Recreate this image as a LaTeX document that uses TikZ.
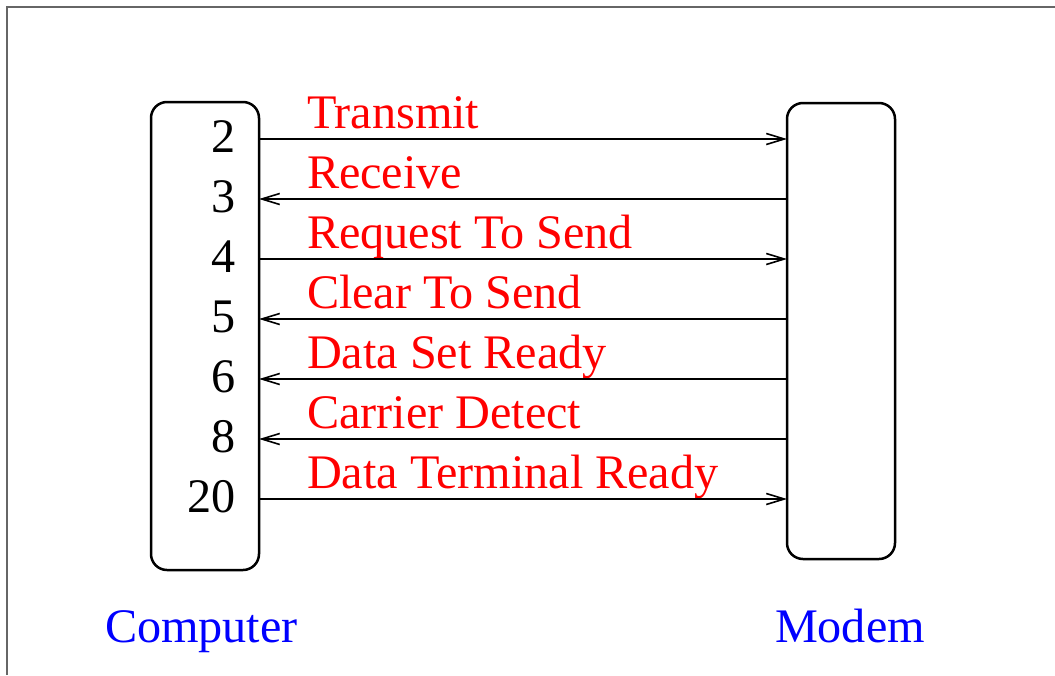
\documentclass[tikz,border=0pt]{standalone}
\usepackage{fontspec}
\setmainfont{Liberation Serif}
\usetikzlibrary{arrows.meta}
\begin{document}
\begin{tikzpicture}[x=0.5pt, y=-0.5pt,
  every node/.style={inner sep=0pt, outer sep=0pt, font=\fontsize{24.1pt}{28pt}\selectfont},
  box/.style={draw, line width=1.25pt, rounded corners=8pt, minimum width=54pt},
  sig/.style={line width=1pt, -{Straight Barb[length=9pt, width=5.5pt, line width=0.8pt]}},
  pin/.style={anchor=base east},
  lbl/.style={anchor=base west, text=red},
  side/.style={anchor=base west, text=blue}]
  \useasboundingbox (0,0) rectangle (1055,675);
  % outer frame
  \draw[line width=1pt, gray!80!black] (7,675) -- (7,7) -- (1055,7);

  % the two connector bodies
  \node (comp)  [box, minimum height=234pt] at (205,336) {};
  \node (modem) [box, minimum height=228pt] at (841,331) {};

  % signal lines: pin number, name, direction
  \def\outdir{out}
  \foreach \y/\pinno/\name/\dir in {139/2/Transmit/out, 199/3/Receive/in,
      259/4/Request To Send/out, 319/5/Clear To Send/in,
      379/6/Data Set Ready/in, 439/8/Carrier Detect/in,
      499/20/Data Terminal Ready/out}{
    \coordinate (a\pinno) at (comp.east |- 0,\y);
    \coordinate (b\pinno) at (modem.west |- 0,\y);
    \node[pin] (p\pinno) at (236,\y+13) {\pinno};
    \node[lbl] (n\pinno) at (307,\y-11) {\name};
    \ifx\dir\outdir
      \draw[sig] (a\pinno) -- (b\pinno);
    \else
      \draw[sig] (b\pinno) -- (a\pinno);
    \fi
  }

  % captions
  \node[side] (ctext) at (105,642) {Computer};
  \node[side] (mtext) at (775,642) {Modem};
\end{tikzpicture}
\end{document}
